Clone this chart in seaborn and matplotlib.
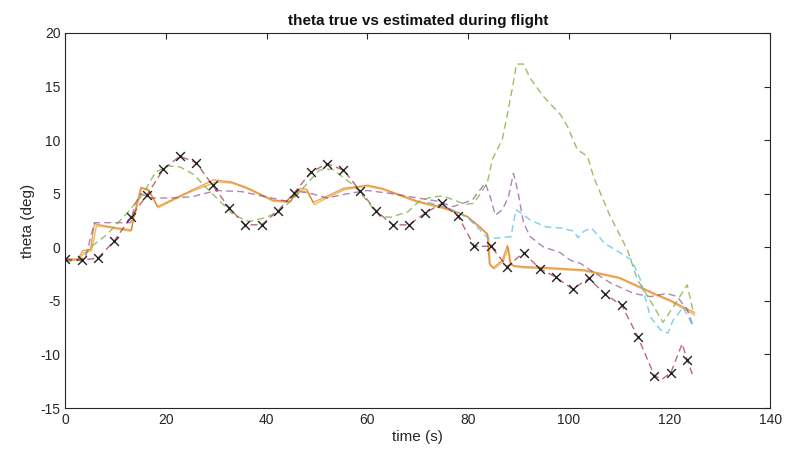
import numpy as np
import pandas as pd
import matplotlib
matplotlib.use("Agg")
import matplotlib.pyplot as plt
import seaborn as sns

sns.set_style("white")
plt.rcParams['font.family'] = ['Liberation Sans', 'DejaVu Sans']
plt.rcParams['axes.unicode_minus'] = False

# true theta samples (x markers)
true_t = [0, 3.25, 6.5, 9.75, 13.0, 16.25, 19.5, 22.75, 26.0, 29.25, 32.5, 35.75, 39.0,
          42.25, 45.5, 48.75, 52.0, 55.25, 58.5, 61.75, 65.0, 68.25, 71.5, 74.75, 78.0,
          81.25, 84.5, 87.75, 91.0, 94.25, 97.5, 100.75, 104.0, 107.25, 110.5, 113.75,
          117.0, 120.25, 123.5]
true_v = [-1.1, -1.2, -1.0, 0.6, 2.8, 4.9, 7.3, 8.5, 7.9, 5.8, 3.7, 2.1, 2.1, 3.4, 5.1,
          7.0, 7.8, 7.2, 5.3, 3.4, 2.1, 2.1, 3.2, 4.1, 2.9, 0.1, 0.1, -1.8, -0.5, -2.0,
          -2.8, -3.9, -2.9, -4.4, -5.4, -8.4, -12.0, -11.7, -10.5]

# true theta dashed line (dark red)
red_t = true_t[:-2] + [118.5, 120.25, 122.5, 123.5, 124.8]
red_v = true_v[:-2] + [-12.3, -11.7, -9.0, -10.5, -12.2]

# estimates
orange_t = [0, 2.5, 3.5, 5.0, 5.8, 8, 13.2, 13.6, 15.0, 16.5, 18.3, 21, 25, 29.5, 33, 36,
            41.3, 44.7, 46.7, 48, 49.2, 51.2, 55.2, 60, 63, 70, 74.5, 77.8, 79.8, 82.4,
            83.8, 84.2, 85, 86.8, 87.8, 88.3, 89, 91, 96, 103, 110, 117, 120, 125]
orange_v = [-1.1, -1.1, -0.3, -0.2, 2.2, 2.0, 1.6, 2.9, 5.6, 5.4, 3.8, 4.4, 5.3, 6.3, 6.1,
            5.6, 4.4, 4.3, 5.5, 5.4, 4.2, 4.6, 5.5, 5.8, 5.5, 4.3, 3.8, 3.3, 2.9, 1.9, 1.3,
            -1.5, -1.9, -1.2, 0.2, -1.4, -1.7, -1.8, -1.9, -2.1, -2.8, -4.3, -4.9, -6.1]

yellow_t = [0, 2.5, 3.8, 5.2, 6.2, 8, 13.0, 13.8, 15.2, 16.6, 18.5, 21, 25, 30, 33, 36,
            41.3, 44.5, 46.5, 48, 49.5, 51.5, 55.5, 60, 63, 70, 74.5, 78, 80, 82.6,
            84.0, 84.4, 85.2, 87, 88, 88.5, 89.2, 91, 96, 103, 110, 117, 120, 125]
yellow_v = [-1.2, -1.2, -0.5, -0.3, 2.0, 1.9, 1.5, 3.0, 5.5, 5.3, 3.7, 4.3, 5.2, 6.1, 6.0,
            5.5, 4.3, 4.2, 5.3, 5.2, 4.0, 4.5, 5.4, 5.7, 5.4, 4.2, 3.7, 3.2, 2.8, 1.7, 1.1,
            -1.7, -2.0, -1.3, 0.0, -1.6, -1.8, -1.9, -2.0, -2.2, -2.9, -4.4, -5.0, -6.3]

purple_t = [0, 4, 5.8, 13, 13.8, 15, 17, 20, 25, 30, 35, 40, 44, 46.5, 49, 52, 56, 60, 65,
            70, 74, 77, 80.8, 83.4, 84.4, 85.4, 86.8, 88, 89, 89.8, 91, 92.3, 94.9, 98.3,
            100.3, 102.3, 104.2, 108.2, 112.8, 116.2, 119.5, 121.5, 123.5, 124.7]
purple_v = [-1.3, -1.0, 2.3, 2.3, 4.0, 5.0, 4.6, 4.6, 4.7, 5.3, 5.2, 4.7, 4.3, 5.2, 5.0,
            4.6, 5.0, 5.3, 5.0, 4.6, 4.3, 3.8, 4.4, 6.0, 4.7, 3.0, 3.5, 4.7, 6.9, 5.4, 2.3,
            1.0, 0.05, -0.5, -1.2, -1.5, -2.1, -3.3, -4.3, -4.6, -4.3, -4.6, -5.8, -7.4]

green_t = [0, 3, 5, 8.3, 12.3, 15.5, 17.9, 20.5, 22.8, 25.5, 27.5, 30.5, 33.5, 36.5, 40,
           42.5, 45.5, 48.5, 50.5, 53, 55, 57.5, 60.5, 62.5, 64.5, 68, 70.5, 73, 75, 77.8,
           79.4, 81, 82, 83.8, 84.8, 86.8, 88, 89, 89.6, 91, 92.3, 94.9, 98.3, 99.7,
           101.7, 103.7, 104.9, 108.2, 111.6, 113.6, 116.2, 118.7, 121.5, 123.5, 124.7]
green_v = [-1.3, -1.2, 0.0, 1.2, 3.2, 5.0, 7.0, 7.6, 7.5, 6.8, 5.8, 4.4, 3.0, 2.4, 2.8,
           3.4, 4.6, 6.2, 7.2, 7.3, 6.6, 5.7, 4.0, 2.9, 2.8, 3.3, 4.4, 4.7, 4.8, 4.3, 4.0,
           4.1, 4.7, 6.0, 8.2, 10.1, 12.9, 15.4, 17.1, 17.1, 15.8, 14.1, 12.4, 11.3, 9.1,
           8.5, 6.6, 2.9, -0.2, -3.0, -5.0, -7.0, -5.0, -3.5, -6.0]

cyan_t = [72, 76, 79.8, 82.4, 84, 86.5, 88.5, 89.5, 90.5, 92.5, 95.5, 98.5, 101, 101.8,
          103, 104.5, 106, 107, 110.5, 112.5, 114.2, 116.2, 118.2, 119.7, 120.7, 122.7, 124.7]
cyan_v = [4.2, 3.7, 2.8, 1.6, 0.8, 0.9, 1.0, 3.5, 3.2, 2.5, 1.9, 1.8, 1.5, 0.9, 1.5, 1.8,
          1.0, 0.4, -0.6, -1.2, -3.0, -6.5, -7.7, -8.0, -6.8, -5.6, -7.4]

matlab = {
    "orange": (0.85, 0.325, 0.098),
    "yellow": (0.929, 0.694, 0.125),
    "purple": (0.494, 0.184, 0.556),
    "green": (0.466, 0.674, 0.188),
    "cyan": (0.301, 0.745, 0.933),
    "red": (0.635, 0.078, 0.184),
}

fig, ax = plt.subplots(figsize=(7.86, 4.58), dpi=100)
fig.subplots_adjust(left=0.083, right=0.98, top=0.928, bottom=0.109)

sns.lineplot(x=yellow_t, y=yellow_v, ax=ax, color=matlab["yellow"], lw=1.1, alpha=0.8)
sns.lineplot(x=orange_t, y=orange_v, ax=ax, color=matlab["orange"], lw=0.9, alpha=0.6)
sns.lineplot(x=purple_t, y=purple_v, ax=ax, color=matlab["purple"], lw=1.0, alpha=0.6)
sns.lineplot(x=green_t, y=green_v, ax=ax, color=matlab["green"], lw=1.0, alpha=0.75)
sns.lineplot(x=cyan_t, y=cyan_v, ax=ax, color=matlab["cyan"], lw=1.0, alpha=0.75)
sns.lineplot(x=red_t, y=red_v, ax=ax, color=matlab["red"], lw=1.0, alpha=0.65)
for ln in ax.lines[2:]:
    ln.set_linestyle((0, (5, 3)))
sns.scatterplot(x=true_t, y=true_v, ax=ax, marker="x", color="#222222", s=40,
                linewidth=1.0, zorder=5)

ax.set_xlim(0, 140)
ax.set_ylim(-15, 20)
ax.set_xticks(np.arange(0, 141, 20))
ax.set_yticks(np.arange(-15, 21, 5))
ax.tick_params(direction="in", top=True, right=True, length=4, width=0.8,
               labelsize=10, colors="#262626")
for sp in ax.spines.values():
    sp.set_visible(True)
    sp.set_color("#262626")
    sp.set_linewidth(0.8)

ax.set_title("theta true vs estimated during flight", fontsize=11, fontweight="bold",
             color="#111111", pad=6)
ax.set_xlabel("time (s)", fontsize=11, color="#262626", labelpad=2)
ax.set_ylabel("theta (deg)", fontsize=11, color="#262626", labelpad=4)

fig.savefig("out.png", dpi=100)
